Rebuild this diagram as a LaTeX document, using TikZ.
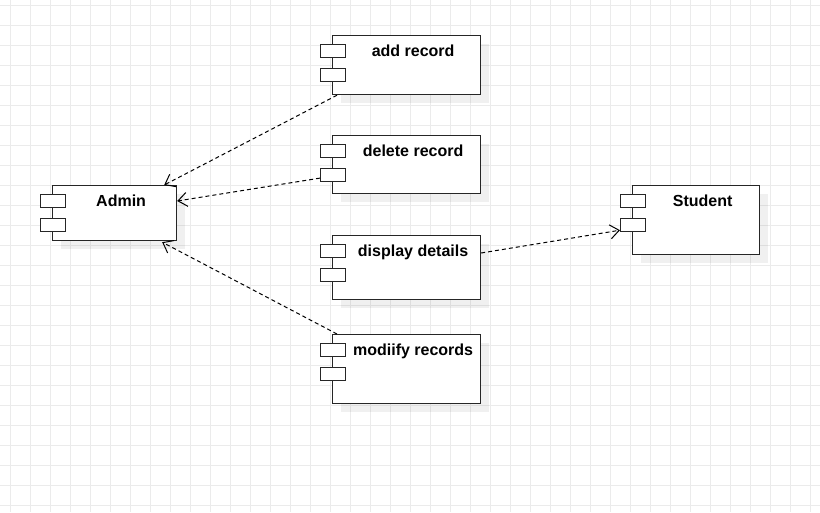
\documentclass[tikz,border=0pt]{standalone}
\usepackage{fontspec}
\setmainfont{Liberation Sans}
\usetikzlibrary{arrows.meta,calc,shadows}
\begin{document}
\begin{tikzpicture}[x=1pt,y=-1pt,
  gridline/.style={draw=black!8, line width=0.7pt},
  comp/.style={draw=black!85, line width=1.2pt, fill=white, rectangle, inner sep=0pt, anchor=north west,
    drop shadow={shadow xshift=8pt, shadow yshift=-8pt, fill=black, opacity=0.06}},
  port/.style={draw=black!85, line width=1.2pt, fill=white, rectangle, inner sep=0pt, anchor=north west,
    minimum width=25pt, minimum height=13pt},
  lbl/.style={anchor=base, inner sep=0pt, font=\bfseries\fontsize{16}{19}\selectfont},
  conn/.style={draw=black, line width=1pt, dash pattern=on 4pt off 3pt,
    -{Straight Barb[length=9pt,width=14pt,line width=1pt]}}
]
\useasboundingbox (0,0) rectangle (820,512);
\fill[white] (0,0) rectangle (820,512);
\foreach \x in {10,30,...,810} \draw[gridline] (\x,0) -- (\x,512);
\foreach \y in {5,25,...,505} \draw[gridline] (0,\y) -- (820,\y);

% components
\node[comp, minimum width=148pt, minimum height=59pt] (add) at (332,35) {};
\node[comp, minimum width=148pt, minimum height=58pt] (del) at (332,135) {};
\node[comp, minimum width=148pt, minimum height=64pt] (disp) at (332,235) {};
\node[comp, minimum width=148pt, minimum height=69pt] (mod) at (332,334) {};
\node[comp, minimum width=124pt, minimum height=55pt] (admin) at (52,185) {};
\node[comp, minimum width=127pt, minimum height=69pt] (stud) at (632,185) {};

\foreach \c in {add,del,disp,mod,admin,stud} {
  \node[port] (\c-p1) at ($(\c.north west)+(-12,9)$) {};
  \node[port] (\c-p2) at ($(\c.north west)+(-12,33)$) {};
  \node[lbl] (\c-t) at ($(\c.north)+(6.5,21.5)$) {};
}
\node[lbl] at (add-t) {add record};
\node[lbl] at (del-t) {delete record};
\node[lbl] at (disp-t) {display details};
\node[lbl] at (mod-t) {modiify records};
\node[lbl] at (admin-t) {Admin};
\node[lbl] at (stud-t) {Student};

% connectors
\draw[conn] ($(add.south west)+(5,0)$) -- ($(admin.north east)+(-13,0)$);
\draw[conn] ($(del-p2.west)+(0,3)$) -- ($(admin.north east)+(0,16)$);
\draw[conn] ($(mod.north west)+(5,0)$) -- ($(admin.south east)+(-15,1)$);
\draw[conn] ($(disp.north east)+(0,18)$) -- ($(stud-p2.south west)+(0,-2)$);
\end{tikzpicture}
\end{document}
